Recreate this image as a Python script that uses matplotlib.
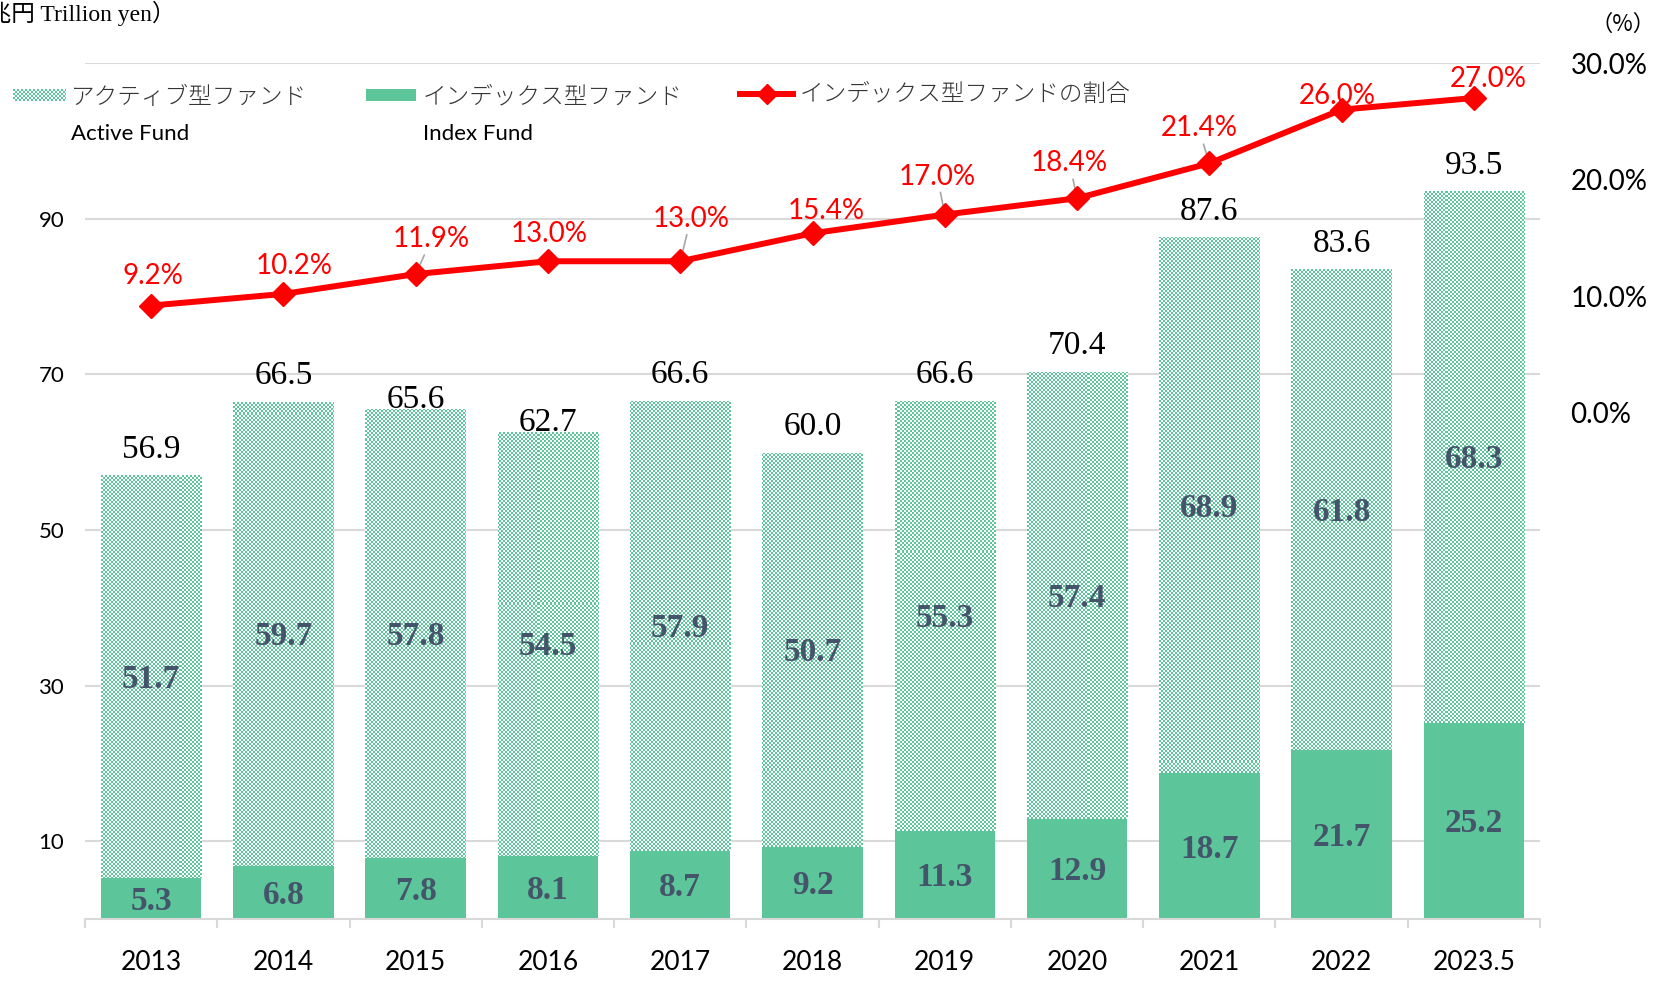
import numpy as np
import matplotlib
matplotlib.use('Agg')
import matplotlib.pyplot as plt
from matplotlib.patches import Rectangle
from matplotlib.lines import Line2D
from matplotlib.colors import to_rgb

years = ['2013', '2014', '2015', '2016', '2017', '2018', '2019', '2020', '2021', '2022', '2023.5']
index_fund = [5.3, 6.8, 7.8, 8.1, 8.7, 9.2, 11.3, 12.9, 18.7, 21.7, 25.2]
active_fund = [51.7, 59.7, 57.8, 54.5, 57.9, 50.7, 55.3, 57.4, 68.9, 61.8, 68.3]
totals = [56.9, 66.5, 65.6, 62.7, 66.6, 60.0, 66.6, 70.4, 87.6, 83.6, 93.5]
index_share = [9.2, 10.2, 11.9, 13.0, 13.0, 15.4, 17.0, 18.4, 21.4, 26.0, 27.0]

# label placement (offset points), like the hand-moved excel labels
share_offsets = [(1.5, 21.3), (7.6, 19.8), (11.4, 25.1), (0.8, 19.8), (7.6, 30.5),
                 (9.9, 16.0), (-5.3, 27.4), (-5.3, 25.1), (-7.6, 25.1), (-3, 9.9), (10.7, 13.7)]
share_leaders = [False, False, True, False, True, False, True, True, True, False, False]
total_offsets = [18.5, 18.5, 6.4, 6.4, 18.5, 18.5, 18.5, 18.5, 18.5, 18.5, 18.5]

GREEN = '#5CC69A'
RED = '#FF0000'
LABEL = '#44546A'
GRID = '#D9D9D9'
JP = ['Noto Sans CJK JP']
SANS = ['Lato', 'Noto Sans CJK JP']
SERIF = ['Liberation Serif', 'Noto Sans CJK JP']
W, H = 1657, 991


def checker(rows, cols, cell=2):
    # green / white checkerboard like excel's pattern fill
    r, c = np.mgrid[0:rows, 0:cols]
    on = ((r // cell + c // cell) % 2) == 0
    img = np.ones((rows, cols, 3))
    img[on] = to_rgb(GREEN)
    return img


fig = plt.figure(figsize=(W / 100, H / 100), dpi=100)
ax = fig.add_axes([85 / W, 1 - 919 / H, 1455 / W, 856 / H])
x = np.arange(len(years))
xlim = (-0.5, len(years) - 0.5)
ylim = (0, 110)

ax.bar(x, index_fund, 0.76, color=GREEN, linewidth=0, zorder=2)
active_bars = ax.bar(x, active_fund, 0.76, bottom=index_fund, facecolor='none',
                     linewidth=0, zorder=2)
tex = checker(856, 1455)
for patch in active_bars:
    im = ax.imshow(tex, extent=(xlim[0], xlim[1], ylim[0], ylim[1]), aspect='auto',
                   interpolation='nearest', zorder=2)
    im.set_clip_path(patch)

for i in range(len(years)):
    ax.annotate(f'{index_fund[i]:.1f}', (x[i], index_fund[i] / 2), xytext=(0, -2),
                textcoords='offset points', ha='center', va='center',
                family=SERIF, weight='bold', size=24, color=LABEL, zorder=3)
    ax.annotate(f'{active_fund[i]:.1f}', (x[i], index_fund[i] + active_fund[i] / 2),
                xytext=(0, -2), textcoords='offset points', ha='center', va='center',
                family=SERIF, weight='bold', size=24, color=LABEL, zorder=3)
    ax.annotate(f'{totals[i]:.1f}', (x[i], index_fund[i] + active_fund[i]),
                xytext=(0, total_offsets[i]), textcoords='offset points',
                ha='center', va='center', family=SERIF, size=24, color='black')

ax.set_xlim(*xlim)
ax.set_ylim(*ylim)
ax.set_yticks([10, 30, 50, 70, 90, 110], ['10', '30', '50', '70', '90', ''])
ax.yaxis.grid(True, color=GRID, linewidth=1.5)
ax.set_axisbelow(True)
ax.tick_params(axis='y', length=0, pad=15, labelsize=16)
ax.set_xticks(x, years)
ax.set_xticks(np.arange(-0.5, len(years), 1), minor=True)
ax.tick_params(axis='x', which='major', length=0, pad=22, labelsize=19)
ax.tick_params(axis='x', which='minor', length=6.5, width=1.5, color=GRID)
for lab in ax.get_xticklabels() + ax.get_yticklabels():
    lab.set_family(SANS)
for s in ['top', 'left', 'right']:
    ax.spines[s].set_visible(False)
ax.spines['bottom'].set_color(GRID)
ax.spines['bottom'].set_linewidth(1.5)

ax2 = ax.twinx()
ax2.plot(x, index_share, color=RED, linewidth=4.3, marker='D', markersize=12, zorder=5)
ax2.set_ylim(-43.4, 30)
ax2.set_yticks([0, 10, 20, 30], ['0.0%', '10.0%', '20.0%', '30.0%'])
ax2.tick_params(axis='y', length=0, pad=22, labelsize=20)
for lab in ax2.get_yticklabels():
    lab.set_family(SANS)
for s in ax2.spines.values():
    s.set_visible(False)

for i in range(len(years)):
    props = dict(arrowstyle='-', color='#A6A6A6', lw=1.2, shrinkA=0, shrinkB=3) if share_leaders[i] else None
    ax2.annotate(f'{index_share[i]:.1f}%', (x[i], index_share[i]), xytext=share_offsets[i],
                 textcoords='offset points', ha='center', va='center', family=SANS,
                 size=20, color=RED, arrowprops=props)

# titles
fig.text(-36 / W, 1 - 13 / H, '（兆円 Trillion yen）', ha='left', va='center', family=SERIF, size=17)
fig.text(1655 / W, 1 - 24 / H, '（%）', ha='right', va='center', family=JP, size=16)

# legend drawn by hand
lax = fig.add_axes([13 / W, 1 - 101 / H, 53 / W, 12 / H])
lax.imshow(checker(12, 53), aspect='auto', interpolation='nearest')
lax.axis('off')
fig.text(71 / W, 1 - 97 / H, 'アクティブ型ファンド', va='center', family=JP, weight='light',
         size=17, color='#333333')
fig.text(71 / W, 1 - 134 / H, 'Active Fund', va='center', family=SANS, size=16)
fig.add_artist(Rectangle((366 / W, 1 - 101 / H), 50 / W, 12 / H, transform=fig.transFigure,
                         facecolor=GREEN, linewidth=0))
fig.text(423 / W, 1 - 97 / H, 'インデックス型ファンド', va='center', family=JP, weight='light',
         size=17, color='#333333')
fig.text(423 / W, 1 - 134 / H, 'Index Fund', va='center', family=SANS, size=16)
fig.add_artist(Line2D([740 / W, 793 / W], [1 - 94 / H, 1 - 94 / H], transform=fig.transFigure,
                      color=RED, linewidth=4.3))
fig.add_artist(Line2D([767 / W], [1 - 94 / H], transform=fig.transFigure, color=RED,
                      marker='D', markersize=10))
fig.text(800 / W, 1 - 94 / H, 'インデックス型ファンドの割合', va='center', family=JP, weight='light',
         size=17, color='#333333')

fig.savefig('out.png', dpi=100)
